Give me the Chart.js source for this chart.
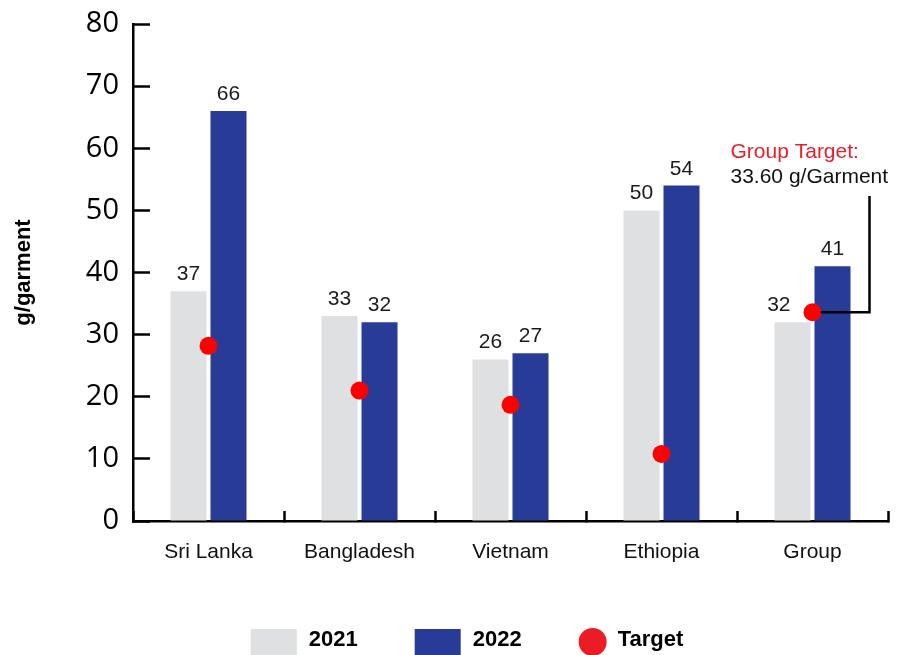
<!DOCTYPE html>
<html>
<head>
<meta charset="utf-8">
<title>g/garment by country</title>
<script src="https://cdn.jsdelivr.net/npm/chart.js@4/dist/chart.umd.min.js"></script>
<style>
  html, body { margin: 0; padding: 0; background: #fff; }
  #wrap { width: 908px; height: 655px; }
</style>
</head>
<body>
<div id="wrap"><canvas id="myChart"></canvas></div>
<script>
const countries = ['Sri Lanka', 'Bangladesh', 'Vietnam', 'Ethiopia', 'Group'];
const values2021 = [37, 33, 26, 50, 32];
const values2022 = [66, 32, 27, 54, 41];
const targets = [28.2, 21.0, 18.7, 10.8, 33.6];
const yTicks = [0, 10, 20, 30, 40, 50, 60, 70, 80];
const groupTargetText = ['Group Target:', '33.60 g/Garment'];

const grey = '#dfe0e2';
const blue = '#283c97';
const red = '#ff0000';
const sans = '"Liberation Sans", Arial, sans-serif';

// numbers above the bars
const valueLabels = {
  id: 'valueLabels',
  afterDatasetsDraw(chart) {
    const ctx = chart.ctx;
    const dots = chart.getDatasetMeta(2).data;
    ctx.save();
    ctx.font = '21px ' + sans;
    ctx.fillStyle = '#1a1a1a';
    ctx.textAlign = 'center';
    ctx.textBaseline = 'alphabetic';
    [0, 1].forEach(di => {
      chart.getDatasetMeta(di).data.forEach((bar, i) => {
        const text = String(chart.data.datasets[di].data[i]);
        const w = ctx.measureText(text).width;
        const y = bar.y - 11;
        let x = bar.x;
        const dot = dots[i];
        // keep the label clear of the target dot
        if (Math.abs(dot.y - (y - 8)) < 20 && x + w / 2 > dot.x - 22 && x - w / 2 < dot.x + 22) {
          x = dot.x - 22 - w / 2;
        }
        ctx.fillText(text, x, y);
      });
    });
    ctx.restore();
  }
};

// callout for the group target
const groupTarget = {
  id: 'groupTarget',
  afterDatasetsDraw(chart) {
    const ctx = chart.ctx;
    const yScale = chart.scales.y;
    const dot = chart.getDatasetMeta(2).data[targets.length - 1];
    const elbowX = dot.x + 57;
    const topY = yScale.getPixelForValue(52.3);
    ctx.save();
    ctx.strokeStyle = '#000';
    ctx.lineWidth = 2.5;
    ctx.beginPath();
    ctx.moveTo(dot.x + 8, dot.y);
    ctx.lineTo(elbowX, dot.y);
    ctx.lineTo(elbowX, topY);
    ctx.stroke();
    ctx.font = '21px ' + sans;
    ctx.textAlign = 'left';
    ctx.textBaseline = 'middle';
    ctx.fillStyle = '#e8202a';
    ctx.fillText(groupTargetText[0], dot.x - 82, yScale.getPixelForValue(59.4));
    ctx.fillStyle = '#111';
    ctx.fillText(groupTargetText[1], dot.x - 82, yScale.getPixelForValue(55.4));
    ctx.restore();
  }
};

// legend row along the bottom edge: two bar swatches and a dot
const legendRow = {
  id: 'legendRow',
  afterDraw(chart) {
    const ctx = chart.ctx;
    const gap = 57;
    const textY = chart.height - 15;
    const markY = chart.height - 13;
    ctx.save();
    ctx.font = 'bold 22px ' + sans;
    ctx.textBaseline = 'middle';
    ctx.textAlign = 'left';
    const items = chart.data.datasets.map(ds => {
      const isDot = ds.type === 'line';
      const markW = isDot ? 28 : 46;
      const textGap = isDot ? 11 : 12;
      const w = markW + textGap + ctx.measureText(ds.label).width;
      return { ds, isDot, markW, textGap, w };
    });
    const total = items.reduce((s, it) => s + it.w, 0) + gap * (items.length - 1);
    let x = chart.width / 2 - total / 2 + 13;
    items.forEach(it => {
      if (it.isDot) {
        ctx.fillStyle = '#ec1c24';
        ctx.beginPath();
        ctx.arc(x + 14, markY, 14, 0, Math.PI * 2);
        ctx.fill();
      } else {
        ctx.fillStyle = it.ds.backgroundColor;
        ctx.fillRect(x, markY - 13, 46, 26);
      }
      ctx.fillStyle = '#000';
      ctx.fillText(it.ds.label, x + it.markW + it.textGap, textY);
      x += it.w + gap;
    });
    ctx.restore();
  }
};

const data = {
  labels: countries,
  datasets: [
    {
      label: '2021',
      data: values2021,
      backgroundColor: grey,
      categoryPercentage: 0.53,
      barPercentage: 0.9,
      order: 1
    },
    {
      label: '2022',
      data: values2022,
      backgroundColor: blue,
      categoryPercentage: 0.53,
      barPercentage: 0.9,
      order: 1
    },
    {
      type: 'line',
      label: 'Target',
      data: targets,
      showLine: false,
      pointRadius: 9,
      pointHoverRadius: 9,
      pointBorderWidth: 0,
      pointBackgroundColor: red,
      backgroundColor: red,
      order: 0
    }
  ]
};

const config = {
  type: 'bar',
  data: data,
  options: {
    responsive: true,
    maintainAspectRatio: false,
    animation: false,
    events: [],
    layout: { padding: { top: 24, right: 20, bottom: 78, left: 0 } },
    plugins: {
      tooltip: { enabled: false },
      legend: { display: false }
    },
    scales: {
      x: {
        offset: true,
        grid: {
          offset: true,
          drawOnChartArea: false,
          tickLength: -10,
          tickColor: '#000',
          tickWidth: 2.5
        },
        border: { color: '#000', width: 2.5 },
        ticks: { padding: 29, color: '#111', font: { family: sans, size: 21 } },
        afterFit(scale) { scale.height = 56; }
      },
      y: {
        min: yTicks[0],
        max: yTicks[yTicks.length - 1],
        grid: {
          drawOnChartArea: false,
          tickLength: -17,
          tickColor: '#000',
          tickWidth: 2.5
        },
        border: { color: '#000', width: 2.5 },
        ticks: {
          stepSize: yTicks[1] - yTicks[0],
          padding: 31,
          color: '#000',
          font: { family: '"Open Sans", sans-serif', size: 29 }
        },
        title: {
          display: true,
          text: 'g/garment',
          color: '#000',
          font: { family: sans, size: 22, weight: 'bold' },
          padding: { top: 11, bottom: 0 }
        },
        afterFit(scale) {
          scale.width = 133;
          // the label padding also pads the ends of the axis; only half a label is needed there
          scale.paddingTop = 17;
          scale.paddingBottom = 17;
        }
      }
    }
  },
  plugins: [valueLabels, groupTarget, legendRow]
};

const myChart = new Chart(document.getElementById('myChart'), config);
</script>
</body>
</html>
